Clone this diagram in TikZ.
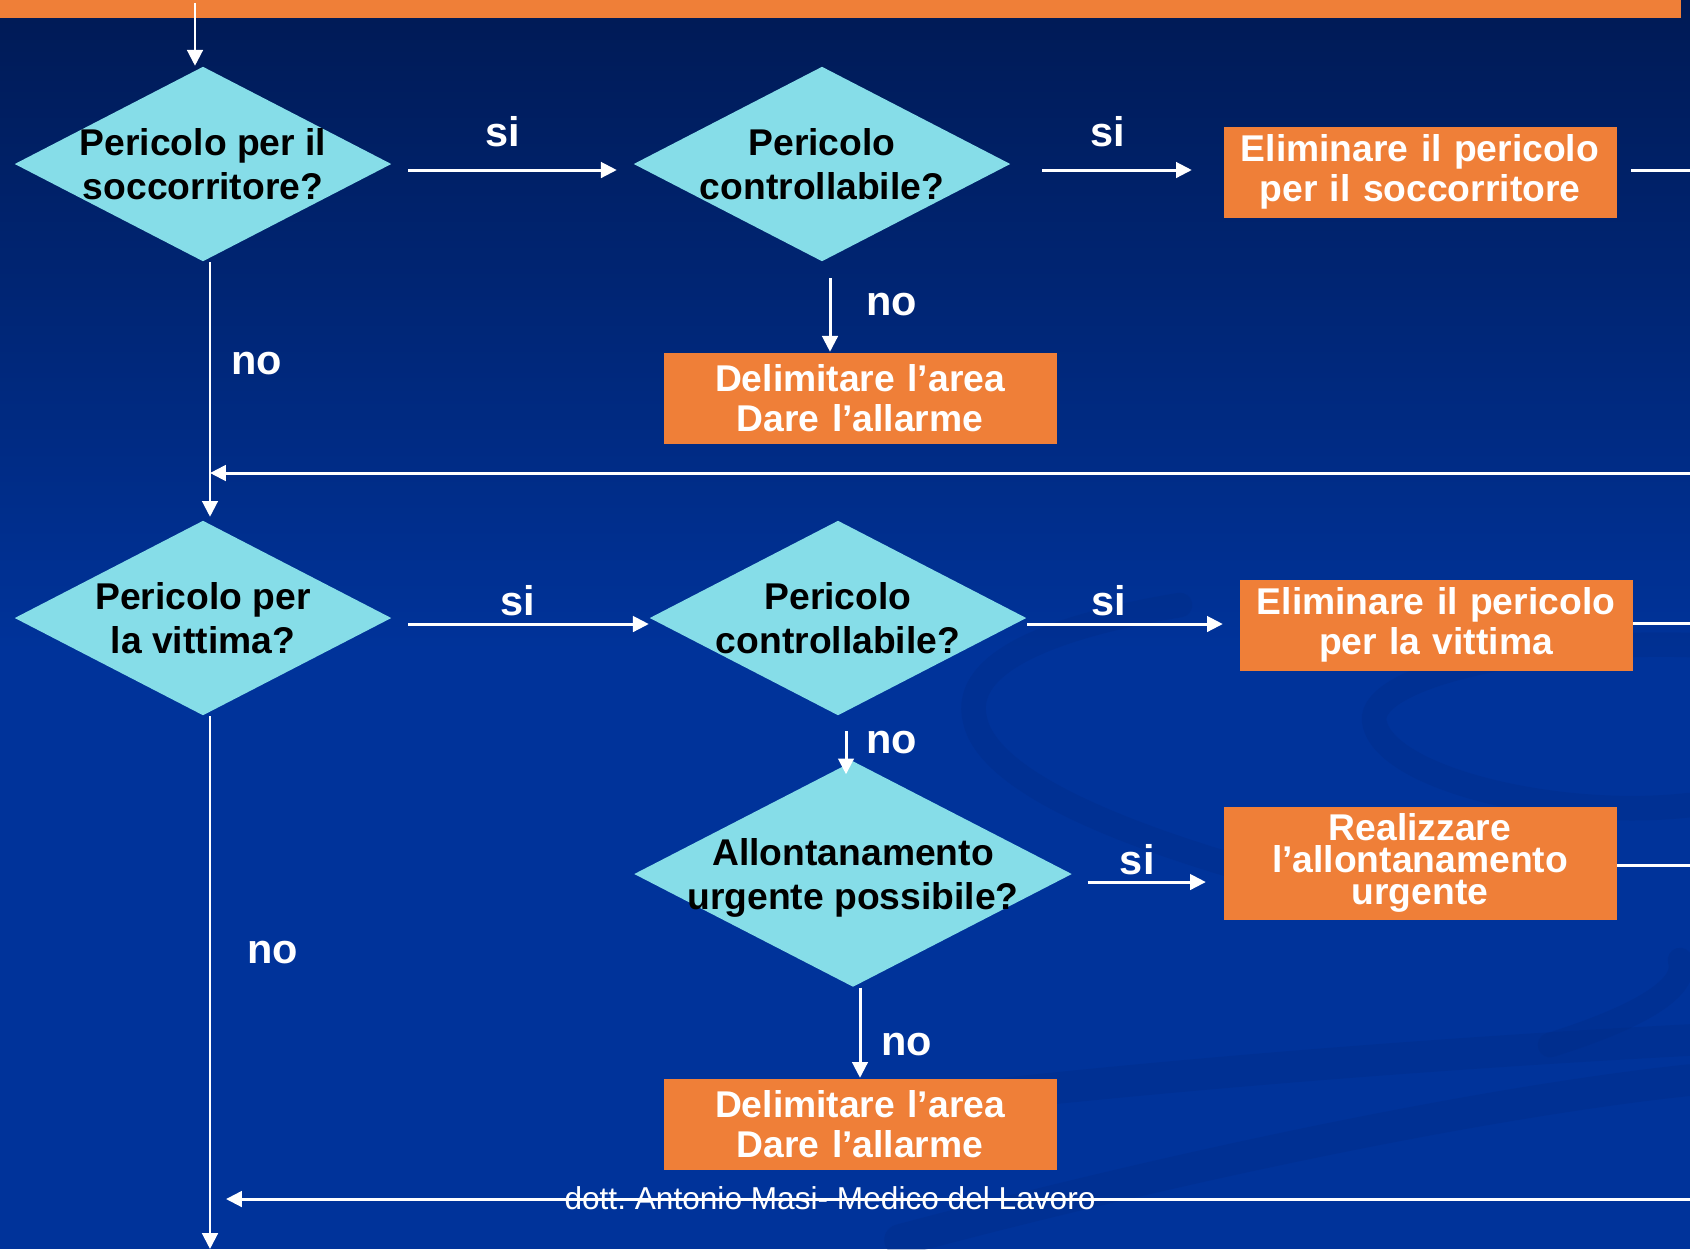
\documentclass[tikz,border=0pt]{standalone}
\usepackage{fontspec}
\setmainfont{Liberation Sans}
\usetikzlibrary{shapes.geometric,positioning,arrows.meta,calc}

\definecolor{bgtop}{HTML}{001A55}
\definecolor{bgbot}{HTML}{00339A}
\definecolor{barorange}{HTML}{EF7F38}
\definecolor{qcyan}{HTML}{86DDE8}
\definecolor{swooshblue}{HTML}{002A82}

%% text of a question, kept out of the diamond's size
\newcommand{\qtext}[1]{\raisebox{-4pt}[0pt][0pt]{\makebox[0pt]{\begin{tabular}{@{}c@{}}#1\end{tabular}}}}
\frenchspacing

\begin{document}
\begin{tikzpicture}[
    question/.style={diamond, fill=qcyan, inner sep=0pt, minimum width=3.77cm, minimum height=1.95cm,
        font=\bfseries\fontsize{10.6}{12.5}\selectfont},
    action/.style={rectangle, fill=barorange, text=white, inner sep=0pt, minimum width=3.93cm,
        minimum height=0.91cm, text width=3.93cm, align=center, font=\bfseries\fontsize{10.6}{11.3}\selectfont},
    flow/.style={draw=white, line width=0.85pt, -{Triangle[length=4.5pt,width=4.4pt]}},
    wire/.style={draw=white, line width=0.85pt},
    answer/.style={text=white, inner sep=0pt, font=\bfseries\fontsize{11.8}{14}\selectfont},
    swoosh/.style={draw=swooshblue, line width=7pt, opacity=0.28, line cap=round},
  ]
    % background
    \fill[bgbot] (0,0) rectangle (16.9,-12.49);
    \shade[top color=bgtop, bottom color=bgbot] (0,0) rectangle (16.9,-6.5);
    \useasboundingbox (0,0) rectangle (16.9,-12.49);
    \draw[swoosh] (11.8,-6.05) .. controls (10.6,-6.25) and (9.6,-6.6) .. (9.75,-7.2)
        .. controls (9.9,-7.9) and (11.6,-8.5) .. (13.4,-8.95);
    \draw[swoosh] (16.9,-6.45) .. controls (15.2,-6.4) and (13.6,-6.8) .. (13.75,-7.25)
        .. controls (13.9,-7.8) and (15.6,-8.2) .. (16.9,-8.05);
    \draw[swoosh] (15.5,-10.45) .. controls (16.3,-10.2) and (16.9,-9.9) .. (16.8,-9.6);
    \draw[swoosh, line width=9pt] (9.0,-11.05) .. controls (12,-10.7) and (15,-10.5) .. (16.9,-10.4);
    \draw[swoosh, line width=9pt] (9.0,-12.4) .. controls (12,-11.6) and (15,-11.0) .. (16.9,-10.8);
    \fill[barorange] (0,0) rectangle (16.81,-0.18);

    % questions and actions
    \node[question] (d1) at (2.03,-1.64) {\qtext{Pericolo per il\\soccorritore?}};
    \node[question] (d2) at (8.22,-1.64) {\qtext{Pericolo\\controllabile?}};
    \node[action] (b1) at (14.20,-1.72) {Eliminare il pericolo\\per il soccorritore};
    \node[action] (b2) at (8.60,-3.98) {Delimitare l’area\\Dare l’allarme};
    \node[question] (d3) at (2.03,-6.18) {\qtext{Pericolo per\\la vittima?}};
    \node[question] (d4) at (8.38,-6.18) {\qtext{Pericolo\\controllabile?}};
    \node[action] (b3) at (14.36,-6.25) {Eliminare il pericolo\\per la vittima};
    \node[question, minimum width=4.38cm, minimum height=2.26cm] (d5) at (8.53,-8.74)
        {\qtext{Allontanamento\\urgente possibile?}};
    \node[action, minimum height=1.13cm, font=\bfseries\fontsize{10.6}{9.1}\selectfont] (b4) at (14.20,-8.63)
        {Realizzare\\l’allontanamento\\urgente};
    \node[action] (b5) at (8.60,-11.24) {Delimitare l’area\\Dare l’allarme};

    % free ends
    \coordinate (entry) at (1.95,-0.03);
    \coordinate (trunk) at ([xshift=0.07cm]d1.south);
    \coordinate (o1) at (16.9,-1.70);
    \coordinate (r1) at (16.9,-4.73);
    \coordinate (o3) at (16.9,-6.23);
    \coordinate (o4) at (16.9,-8.65);
    \coordinate (r2) at (16.9,-11.99);
    \coordinate (exit) at (2.10,-12.49);

    % connectors
    \draw[flow] (entry) -- (entry |- d1.north);
    \draw[flow, shorten <=0.16cm, shorten >=0.16cm] ([yshift=-0.06cm]d1.east)
        -- node[answer, above=0.22cm, pos=0.46] (si1) {si} ([yshift=-0.06cm]d2.west);
    \draw[flow, shorten <=0.31cm, shorten >=0.31cm] ([yshift=-0.06cm]d2.east)
        -- node[answer, above=0.22cm, pos=0.455] (si2) {si} ([yshift=-0.06cm]d2.east -| b1.west);
    \draw[wire, shorten <=0.14cm] (b1.east |- o1) -- (o1);
    \draw[flow, shorten <=0.16cm] ([xshift=0.08cm]d2.south)
        -- node[answer, right=0.345cm, pos=0.47] (no2) {no} ([xshift=0.08cm]d2.south |- b2.north);
    \draw[flow, shorten >=0.03cm] (trunk)
        -- node[answer, right=0.195cm, pos=0.395] (no1) {no} (trunk |- d3.north);
    \draw[flow] (r1) -- (r1 -| trunk);

    \draw[flow, shorten <=0.16cm] ([yshift=-0.06cm]d3.east)
        -- node[answer, above=0.07cm, pos=0.49] (si3) {si} ([yshift=-0.06cm]d4.west);
    \draw[flow, shorten >=0.16cm] ([yshift=-0.06cm]d4.east)
        -- node[answer, above=0.07cm, pos=0.385] (si4) {si} ([yshift=-0.06cm]d4.east -| b3.west);
    \draw[wire] (b3.east |- o3) -- (o3);
    \draw[flow, shorten <=0.15cm, shorten >=-0.14cm] ([xshift=0.08cm]d4.south)
        -- node[answer, right=0.185cm, pos=0.59] (no4) {no} ([xshift=0.08cm]d4.south |- d5.north);
    \draw[flow, shorten <=0.15cm, shorten >=0.17cm] ([yshift=-0.08cm]d5.east)
        -- node[answer, above=0.06cm, pos=0.43] (si5) {si} ([yshift=-0.08cm]d5.east -| b4.west);
    \draw[wire] (b4.east |- o4) -- (o4);
    \draw[flow] ([xshift=0.07cm]d5.south)
        -- node[answer, right=0.195cm, pos=0.63] (no5) {no} ([xshift=0.07cm]d5.south |- b5.north);
    \draw[flow] ([xshift=0.07cm]d3.south)
        -- node[answer, right=0.355cm, pos=0.443] (no3) {no} (exit);
    \draw[flow, shorten >=0.16cm] (r2) -- (r2 -| trunk);

    % footer
    \node[text=white, inner sep=0pt, anchor=base, font=\fontsize{9}{11}\selectfont] (credit) at (8.30,-12.09)
        {dott. Antonio Masi- Medico del Lavoro};
\end{tikzpicture}
\end{document}
